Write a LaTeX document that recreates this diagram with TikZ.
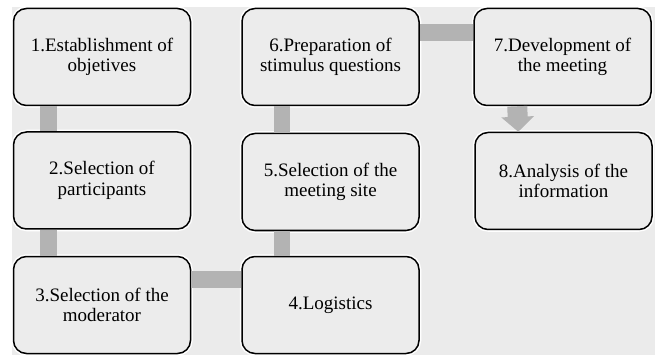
\documentclass[tikz,border=0pt]{standalone}
\usepackage{fontspec}
\setmainfont{Liberation Serif}
\usetikzlibrary{arrows.meta}
\definecolor{bggray}{HTML}{EBEBEB}
\definecolor{boxgray}{HTML}{ECECEC}
\definecolor{bargray}{HTML}{B3B3B3}
\begin{document}
\begin{tikzpicture}[x=1pt,y=-1pt,
  stage/.style={draw=black, line width=1.5pt, fill=boxgray, rounded corners=13pt,
    minimum width=177pt, minimum height=97pt, align=center, inner sep=2pt,
    font=\fontsize{19}{20.5}\selectfont,
    preaction={draw=white, line width=4.5pt}},
  bar/.style={draw=bargray, line width=16.5pt},
  flow/.style={draw=bargray, line width=20pt, -{Triangle[width=32pt,length=15pt]}}]
\useasboundingbox (0,0) rectangle (655,355);
\fill[bggray] (12,7) rectangle (655,355);

\node[stage] (s1) at (102,57) {1.Establishment of\\objetives};
\node[stage] (s2) at (102,180.5) {2.Selection of\\participants};
\node[stage] (s3) at (102,305) {3.Selection of the\\moderator};
\node[stage] (s4) at (330.5,305) {4.Logistics};
\node[stage] (s5) at (330.5,182) {5.Selection of the\\meeting site};
\node[stage] (s6) at (330.5,57) {6.Preparation of\\stimulus questions};
\node[stage] (s7) at (562.5,57) {7.Development of\\the meeting};
\node[stage] (s8) at (563.5,181) {8.Analysis of the\\information};

\draw[bar] ([xshift=35.5pt]s1.south west) -- ([xshift=35.5pt]s2.north west);
\draw[bar] ([xshift=35.5pt]s2.south west) -- ([xshift=35.5pt]s3.north west);
\draw[bar] ([yshift=-23.5pt]s3.north east) -- ([yshift=-23.5pt]s4.north west);
\draw[bar] ([xshift=40.5pt]s4.north west) -- ([xshift=40.5pt]s5.south west);
\draw[bar] ([xshift=40.5pt]s5.north west) -- ([xshift=40.5pt]s6.south west);
\draw[bar] ([yshift=-25pt]s6.north east) -- ([yshift=-25pt]s7.north west);
\draw[flow] ([xshift=44pt]s7.south west) -- ([xshift=44pt]s8.north west);
\end{tikzpicture}
\end{document}
